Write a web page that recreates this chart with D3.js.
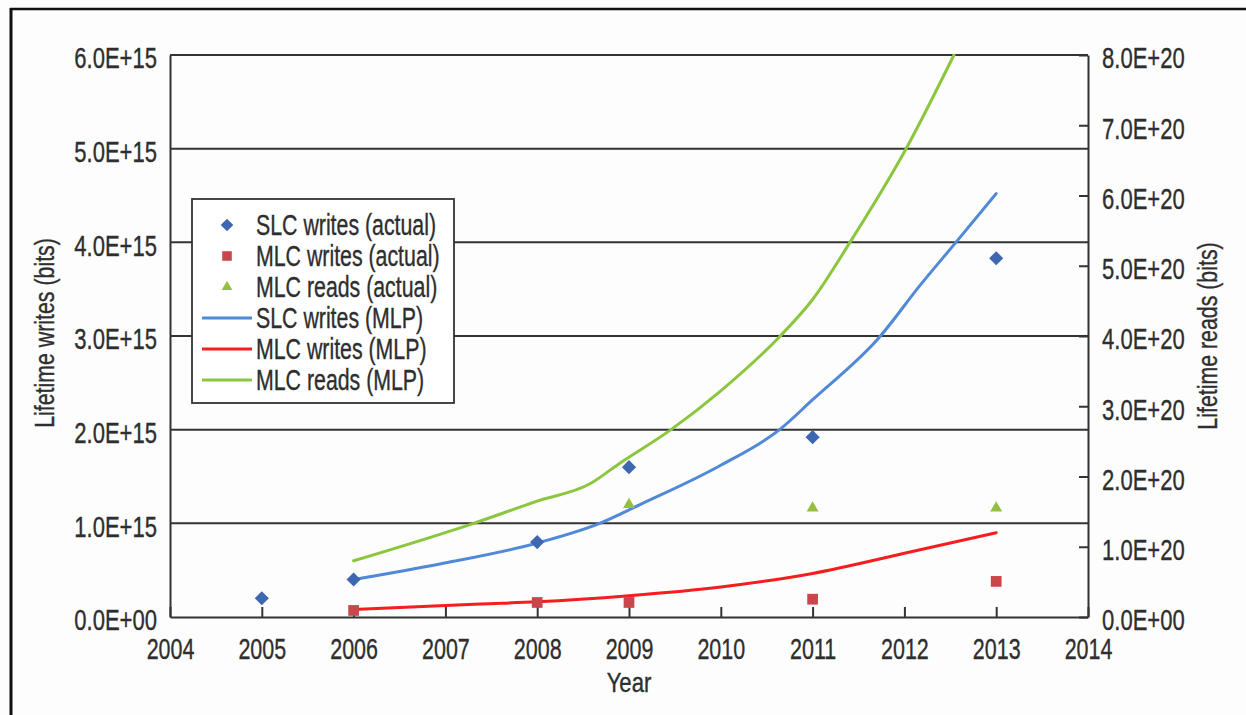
<!DOCTYPE html>
<html>
<head>
<meta charset="utf-8">
<script src="https://cdn.jsdelivr.net/npm/d3@7"></script>
<style>
  html, body { margin: 0; padding: 0; background: #ffffff; }
  svg { display: block; }
  text { font-family: "Liberation Sans", Arial, sans-serif; fill: #2e2e2e; stroke: #2e2e2e; stroke-width: 0.35px; }
</style>
</head>
<body>
<svg id="chart" width="1246" height="715"></svg>
<script>
// ---- data ----
const xTickYears = [2004, 2005, 2006, 2007, 2008, 2009, 2010, 2011, 2012, 2013, 2014];
const leftTicks  = [0, 1e15, 2e15, 3e15, 4e15, 5e15, 6e15];
const rightTicks = [0, 1e20, 2e20, 3e20, 4e20, 5e20, 6e20, 7e20, 8e20];

// measured endurance (left axis: writes, right axis: reads)
const slcWritesYears  = [2005, 2006, 2008, 2009, 2011, 2013];
const slcWritesActual = [0.20e15, 0.40e15, 0.80e15, 1.60e15, 1.92e15, 3.83e15];
const mlcWritesYears  = [2006, 2008, 2009, 2011, 2013];
const mlcWritesActual = [0.07e15, 0.155e15, 0.155e15, 0.19e15, 0.38e15];
const mlcReadsYears   = [2009, 2011, 2013];
const mlcReadsActual  = [1.60e20, 1.55e20, 1.55e20];

// MLP model curves
const slcModelYears  = [2006, 2006.94, 2008, 2008.68, 2009.12, 2010, 2010.64, 2011, 2011.73, 2012.17, 2012.57, 2013];
const slcModelValues = [0.40e15, 0.566e15, 0.79e15, 1.0e15, 1.2e15, 1.62e15, 2.0e15, 2.32e15, 2.99e15, 3.54e15, 4.01e15, 4.52e15];
const mlcWModelYears  = [2006, 2007.38, 2008, 2009, 2010, 2011, 2012, 2013];
const mlcWModelValues = [0.08e15, 0.139e15, 0.162e15, 0.227e15, 0.32e15, 0.465e15, 0.68e15, 0.90e15];
const mlcRModelYears  = [2006, 2007.3, 2008, 2008.58, 2008.9, 2009.45, 2010, 2010.64, 2011, 2011.41, 2012.02, 2012.54];
const mlcRModelValues = [0.80e20, 1.33e20, 1.65e20, 1.90e20, 2.19e20, 2.66e20, 3.22e20, 3.99e20, 4.52e20, 5.34e20, 6.67e20, 8.0e20];

const diamond = { draw(ctx, size) { const r = Math.sqrt(size / 2); ctx.moveTo(0, -r); ctx.lineTo(r, 0); ctx.lineTo(0, r); ctx.lineTo(-r, 0); ctx.closePath(); } };

const legendItems = [
  { label: "SLC writes (actual)", kind: "marker", symbol: diamond,            color: "#3d68b1", size: 100 },
  { label: "MLC writes (actual)", kind: "marker", symbol: d3.symbolSquare,   color: "#c9474a", size: 115 },
  { label: "MLC reads (actual)",  kind: "marker", symbol: d3.symbolTriangle, color: "#95c03f", size: 62 },
  { label: "SLC writes (MLP)",    kind: "line", color: "#5089d6" },
  { label: "MLC writes (MLP)",    kind: "line", color: "#f51d1d" },
  { label: "MLC reads (MLP)",     kind: "line", color: "#8cc63e" }
];

// ---- layout ----
const svg = d3.select("#chart");
const plot = { left: 170, right: 1088, top: 55, bottom: 617 };
const axisColor = "#333333";

const x  = d3.scaleLinear().domain([2004, 2014]).range([plot.left, plot.right]);
const yL = d3.scaleLinear().domain([0, 6e15]).range([plot.bottom, plot.top]);
const yR = d3.scaleLinear().domain([0, 8e20]).range([plot.bottom, plot.top]);

function sci(v) {
  return d3.format(".1e")(v).replace(/e([+-])(\d)$/, "e$10$2").toUpperCase();
}

// squeeze text horizontally to a condensed width
function condense(sel, factor) {
  sel.each(function () {
    const w = this.getComputedTextLength();
    d3.select(this).attr("textLength", w * factor).attr("lengthAdjust", "spacingAndGlyphs");
  });
}

// frame
svg.append("rect").attr("width", 1246).attr("height", 715).attr("fill", "#fdfdfd");
svg.append("line").attr("x1", 11).attr("x2", 11).attr("y1", 8).attr("y2", 715)
  .attr("stroke", "#111").attr("stroke-width", 3);
svg.append("line").attr("x1", 10).attr("x2", 1246).attr("y1", 9).attr("y2", 9)
  .attr("stroke", "#111").attr("stroke-width", 2.5);

// gridlines
svg.append("g").selectAll("line").data(leftTicks.filter(d => d > 0)).join("line")
  .attr("x1", plot.left).attr("x2", plot.right)
  .attr("y1", d => yL(d)).attr("y2", d => yL(d))
  .attr("stroke", axisColor).attr("stroke-width", 2);

// left axis
const gL = svg.append("g").attr("transform", `translate(${plot.left},0)`)
  .call(d3.axisLeft(yL).tickValues(leftTicks).tickFormat(sci).tickSize(0).tickSizeOuter(0).tickPadding(13));
// right axis
const gR = svg.append("g").attr("transform", `translate(${plot.right},0)`)
  .call(d3.axisRight(yR).tickValues(rightTicks).tickFormat(sci).tickSize(-9).tickSizeOuter(0).tickPadding(14));
// bottom axis
const gB = svg.append("g").attr("transform", `translate(0,${plot.bottom})`)
  .call(d3.axisBottom(x).tickValues(xTickYears).tickFormat(d3.format("d")).tickSize(-10).tickSizeOuter(0).tickPadding(21));

[gL, gR, gB].forEach(g => {
  g.select(".domain").attr("stroke", axisColor).attr("stroke-width", 2);
  g.selectAll(".tick line").attr("stroke", axisColor).attr("stroke-width", 2);
  g.selectAll(".tick text").attr("font-size", 29).attr("fill", "#2e2e2e")
    .style("font-family", '"Liberation Sans", Arial, sans-serif');
});
gL.selectAll(".tick text").attr("dy", "0.44em");
gR.selectAll(".tick text").attr("dy", "0.44em");
condense(gL.selectAll(".tick text"), 0.76);
condense(gR.selectAll(".tick text"), 0.76);
condense(gB.selectAll(".tick text"), 0.74);

// axis titles
const titles = svg.append("g");
titles.append("text").attr("transform", "translate(54,333) rotate(-90)")
  .attr("text-anchor", "middle").attr("font-size", 27).text("Lifetime writes (bits)");
titles.append("text").attr("transform", "translate(1217,336) rotate(-90)")
  .attr("text-anchor", "middle").attr("font-size", 27).text("Lifetime reads (bits)");
titles.append("text").attr("x", 629).attr("y", 692)
  .attr("text-anchor", "middle").attr("font-size", 28).text("Year");
condense(titles.selectAll("text"), 0.79);

// clip for model curves
svg.append("clipPath").attr("id", "plotClip").append("rect")
  .attr("x", plot.left).attr("y", plot.top - 1)
  .attr("width", plot.right - plot.left).attr("height", plot.bottom - plot.top + 1);

const lineG = svg.append("g").attr("clip-path", "url(#plotClip)");
function drawCurve(years, values, yScale, color) {
  const pts = years.map((yr, i) => [yr, values[i]]);
  lineG.append("path").datum(pts)
    .attr("fill", "none").attr("stroke", color).attr("stroke-width", 3)
    .attr("stroke-linecap", "round")
    .attr("d", d3.line().x(d => x(d[0])).y(d => yScale(d[1])).curve(d3.curveMonotoneX));
}
drawCurve(slcModelYears, slcModelValues, yL, legendItems[3].color);
drawCurve(mlcWModelYears, mlcWModelValues, yL, legendItems[4].color);
drawCurve(mlcRModelYears, mlcRModelValues, yR, legendItems[5].color);

// markers
function drawMarkers(years, values, yScale, item) {
  svg.append("g").selectAll("path").data(years.map((yr, i) => [yr, values[i]])).join("path")
    .attr("transform", d => `translate(${x(d[0])},${yScale(d[1])})`)
    .attr("d", d3.symbol().type(item.symbol).size(item.size))
    .attr("fill", item.color);
}
drawMarkers(slcWritesYears, slcWritesActual, yL, legendItems[0]);
drawMarkers(mlcWritesYears, mlcWritesActual, yL, legendItems[1]);
drawMarkers(mlcReadsYears, mlcReadsActual, yR, legendItems[2]);

// legend
const lg = svg.append("g");
lg.append("rect").attr("x", 192).attr("y", 199).attr("width", 262).attr("height", 204)
  .attr("fill", "#ffffff").attr("stroke", axisColor).attr("stroke-width", 1.8);
legendItems.forEach((item, i) => {
  const cy = 225 + i * 31;
  if (item.kind === "marker") {
    lg.append("path").attr("transform", `translate(227,${cy})`)
      .attr("d", d3.symbol().type(item.symbol).size(item.size * 0.8)).attr("fill", item.color);
  } else {
    lg.append("line").attr("x1", 202).attr("x2", 252).attr("y1", cy).attr("y2", cy)
      .attr("stroke", item.color).attr("stroke-width", 3);
  }
  lg.append("text").attr("x", 256).attr("y", cy).attr("dy", "0.36em")
    .attr("font-size", 29).text(item.label);
});
condense(lg.selectAll("text"), 0.735);
</script>
</body>
</html>
